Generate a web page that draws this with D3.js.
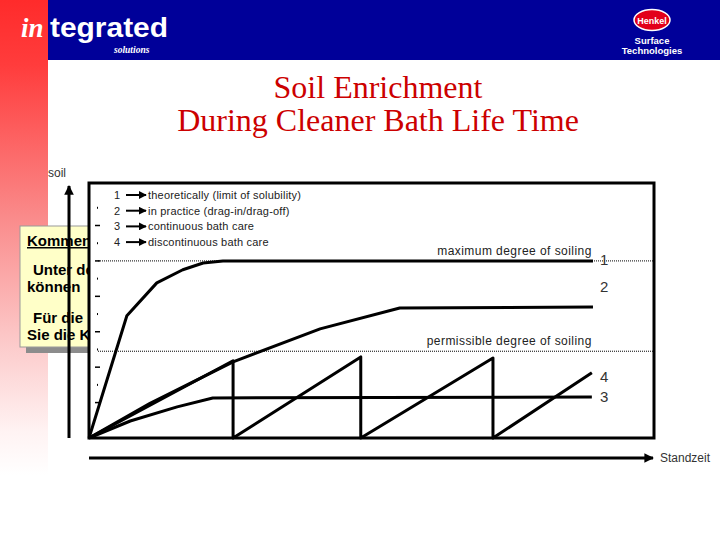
<!DOCTYPE html>
<html>
<head>
<meta charset="utf-8">
<script src="https://cdn.jsdelivr.net/npm/d3@7"></script>
<style>
  html, body { margin: 0; padding: 0; background: #fff; }
  svg { display: block; }
</style>
</head>
<body>
<div id="chart"></div>
<script>
// soil vs. time, one pair of arrays per curve (time 0..100, soil in relative units)
var curveTime1 = [0, 6.7, 12.0, 16.6, 20.2, 23.7, 89.2];
var curveSoil1 = [0, 3.45, 4.38, 4.75, 4.94, 5.0, 5.0];
var curveTime2 = [0, 10.8, 25.5, 40.9, 55.0, 89.2];
var curveSoil2 = [0, 0.98, 2.15, 3.08, 3.67, 3.70];
var curveTime3 = [0, 7.3, 15.6, 21.9, 89.0];
var curveSoil3 = [0, 0.48, 0.88, 1.13, 1.16];
var curveTime4 = [0, 25.5, 25.5, 48.1, 48.1, 71.5, 71.5, 89.0];
var curveSoil4 = [0, 2.18, 0, 2.29, 0, 2.26, 0, 1.84];

var limitMax = 5.0;
var limitPermissible = 2.45;
var limitNames = ["maximum degree of soiling", "permissible degree of soiling"];

var curveIds = ["1", "2", "4", "3"];
var legendIds = ["1", "2", "3", "4"];
var legendTexts = ["theoretically (limit of solubility)",
                   "in practice (drag-in/drag-off)",
                   "continuous bath care",
                   "discontinuous bath care"];
var majorTicks = [1, 2, 3, 4, 5, 6];
var minorTicks = [1.5, 2.5, 3.5, 4.5, 5.5, 6.5];

var titleLines = ["Soil Enrichment", "During Cleaner Bath Life Time"];
var commentLines = ["Kommentar:", "Unter der Ansicht", "können", "Für die", "Sie die Kommentare"];

var W = 720, H = 540;
var sans = "'Liberation Sans', Arial, sans-serif";
var serif = "'Liberation Serif', 'Times New Roman', serif";

var svg = d3.select("#chart").append("svg")
    .attr("width", W).attr("height", H);

var defs = svg.append("defs");
var grad = defs.append("linearGradient")
    .attr("id", "strip").attr("x1", 0).attr("y1", 0).attr("x2", 0).attr("y2", 1);
[[0, "#ff2b2b"], [0.12, "#ff3c3c"], [0.4, "#fa8a8a"], [0.62, "#fcc6c6"],
 [0.8, "#fff3f3"], [0.88, "#ffffff"]].forEach(function(s){
    grad.append("stop").attr("offset", s[0]).attr("stop-color", s[1]);
});
defs.append("marker")
    .attr("id", "head").attr("viewBox", "0 0 10 10")
    .attr("refX", 9).attr("refY", 5)
    .attr("markerWidth", 3.2).attr("markerHeight", 3.2)
    .attr("markerUnits", "strokeWidth")
    .attr("orient", "auto")
  .append("path").attr("d", "M0,0 L10,5 L0,10 z").attr("fill", "#000");
defs.append("marker")
    .attr("id", "smallhead").attr("viewBox", "0 0 10 10")
    .attr("refX", 9).attr("refY", 5)
    .attr("markerWidth", 4).attr("markerHeight", 4)
    .attr("markerUnits", "strokeWidth")
    .attr("orient", "auto")
  .append("path").attr("d", "M0,0 L10,5 L0,10 z").attr("fill", "#000");

// background: red strip + blue header
svg.append("rect").attr("x", 0).attr("y", 0).attr("width", 48).attr("height", H)
    .attr("fill", "url(#strip)");
svg.append("rect").attr("x", 48).attr("y", 0).attr("width", W - 48).attr("height", 60)
    .attr("fill", "#000099");

var logo = svg.append("g");
logo.append("text").attr("x", 21).attr("y", 37)
    .attr("font-family", serif).attr("font-style", "italic").attr("font-weight", "bold")
    .attr("font-size", 27).attr("fill", "#fff").text("in");
logo.append("text").attr("x", 50).attr("y", 37)
    .attr("font-family", sans).attr("font-weight", "bold")
    .attr("font-size", 28).attr("fill", "#fff")
    .attr("textLength", 118).attr("lengthAdjust", "spacingAndGlyphs").text("tegrated");
logo.append("text").attr("x", 114).attr("y", 53)
    .attr("font-family", serif).attr("font-style", "italic").attr("font-weight", "bold")
    .attr("font-size", 9.5).attr("fill", "#fff").text("solutions");

var henkel = svg.append("g");
henkel.append("ellipse").attr("cx", 652).attr("cy", 20).attr("rx", 18).attr("ry", 10.5)
    .attr("fill", "#e2001a").attr("stroke", "#fff").attr("stroke-width", 1.5);
henkel.append("text").attr("x", 652).attr("y", 23.5).attr("text-anchor", "middle")
    .attr("font-family", sans).attr("font-weight", "bold").attr("font-size", 9)
    .attr("fill", "#fff").text("Henkel");
["Surface", "Technologies"].forEach(function(t, i){
    henkel.append("text").attr("x", 652).attr("y", 44 + i * 10).attr("text-anchor", "middle")
        .attr("font-family", sans).attr("font-weight", "bold").attr("font-size", 9.5)
        .attr("fill", "#fff").text(t);
});

// title
titleLines.forEach(function(t, i){
    svg.append("text").attr("x", 378).attr("y", 98 + i * 33)
        .attr("text-anchor", "middle")
        .attr("font-family", serif).attr("font-size", 32)
        .attr("fill", "#cc0000").text(t);
});

// comment box (mostly hidden behind the chart frame)
svg.append("rect").attr("x", 26).attr("y", 232).attr("width", 70).attr("height", 121)
    .attr("fill", "#8c8c8c");
svg.append("rect").attr("x", 20).attr("y", 226).attr("width", 75).attr("height", 121)
    .attr("fill", "#ffffc8").attr("stroke", "#999").attr("stroke-width", 1);
var commentY = [246, 275, 292, 323, 340];
var commentX = [27, 33, 27, 33, 27];
commentLines.forEach(function(t, i){
    svg.append("text").attr("x", commentX[i]).attr("y", commentY[i])
        .attr("font-family", sans).attr("font-weight", "bold").attr("font-size", 15)
        .attr("fill", "#000")
        .attr("text-decoration", i == 0 ? "underline" : null)
        .text(t);
});

// scales
var x = d3.scaleLinear().domain([0, 100]).range([89, 654]);
var y = d3.scaleLinear().domain([0, 7.2]).range([438, 183]);

// chart frame
svg.append("rect").attr("x", x(0)).attr("y", y(7.2))
    .attr("width", x(100) - x(0)).attr("height", y(0) - y(7.2))
    .attr("fill", "#fff").attr("stroke", "#000").attr("stroke-width", 3);

// the stray axis marks along the inner left edge
svg.selectAll(".major").data(majorTicks).enter().append("line")
    .attr("x1", 95).attr("x2", 100)
    .attr("y1", function(d){ return y(d); }).attr("y2", function(d){ return y(d); })
    .attr("stroke", "#000").attr("stroke-width", 1.5);
svg.selectAll(".minor").data(minorTicks).enter().append("rect")
    .attr("x", 97).attr("y", function(d){ return y(d) - 1; })
    .attr("width", 1).attr("height", 2).attr("fill", "#000");

// axes drawn as arrows
svg.append("line").attr("x1", 69).attr("y1", y(0)).attr("x2", 69).attr("y2", 186)
    .attr("stroke", "#000").attr("stroke-width", 3).attr("marker-end", "url(#head)");
svg.append("line").attr("x1", x(0)).attr("y1", 458).attr("x2", 653).attr("y2", 458)
    .attr("stroke", "#000").attr("stroke-width", 3).attr("marker-end", "url(#head)");
svg.append("text").attr("x", 48).attr("y", 177)
    .attr("font-family", sans).attr("font-size", 12).attr("fill", "#333").text("soil");
svg.append("text").attr("x", 660).attr("y", 462)
    .attr("font-family", sans).attr("font-size", 12).attr("fill", "#333").text("Standzeit");

// legend
var legend = svg.append("g");
legendIds.forEach(function(id, i){
    var ly = 195 + i * 15.7;
    legend.append("text").attr("x", 117).attr("y", ly + 4).attr("text-anchor", "middle")
        .attr("font-family", sans).attr("font-size", 11).attr("fill", "#222").text(id);
    legend.append("line").attr("x1", 126).attr("y1", ly).attr("x2", 146).attr("y2", ly)
        .attr("stroke", "#000").attr("stroke-width", 2).attr("marker-end", "url(#smallhead)");
    legend.append("text").attr("x", 148).attr("y", ly + 4)
        .attr("font-family", sans).attr("font-size", 11).attr("fill", "#222")
        .attr("letter-spacing", 0.2).text(legendTexts[i]);
});

// limit lines
[limitMax, limitPermissible].forEach(function(v, i){
    svg.append("line").attr("x1", 98).attr("x2", x(100))
        .attr("y1", y(v)).attr("y2", y(v))
        .attr("stroke", "#000").attr("stroke-width", 1).attr("stroke-dasharray", "1,1");
    svg.append("text").attr("x", x(89)).attr("y", y(v) - 6)
        .attr("text-anchor", "end")
        .attr("font-family", sans).attr("font-size", 12).attr("fill", "#222")
        .attr("letter-spacing", 0.45).text(limitNames[i]);
});

// curves
var line = d3.line()
    .x(function(d){ return x(d[0]); })
    .y(function(d){ return y(d[1]); });
var curves = [
    d3.zip(curveTime1, curveSoil1),
    d3.zip(curveTime2, curveSoil2),
    d3.zip(curveTime4, curveSoil4),
    d3.zip(curveTime3, curveSoil3)
];
svg.selectAll(".curve").data(curves).enter().append("path")
    .attr("class", "curve")
    .attr("d", line)
    .attr("fill", "none").attr("stroke", "#000").attr("stroke-width", 3)
    .attr("stroke-linejoin", "round");

// curve numbers at the right end
var labelShift = [4, -15, 9, 5];
curves.forEach(function(c, i){
    var last = c[c.length - 1];
    svg.append("text").attr("x", 600).attr("y", y(last[1]) + labelShift[i])
        .attr("font-family", sans).attr("font-size", 15).attr("fill", "#333")
        .text(curveIds[i]);
});
</script>
</body>
</html>
